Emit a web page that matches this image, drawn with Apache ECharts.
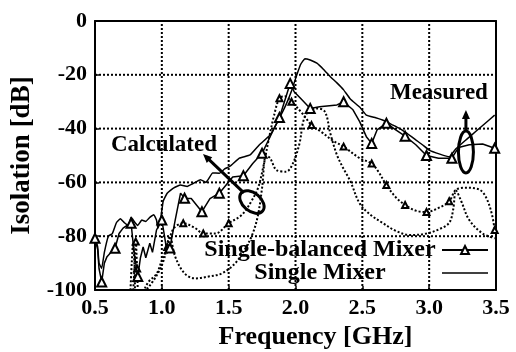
<!DOCTYPE html>
<html><head><meta charset="utf-8">
<script src="https://cdn.jsdelivr.net/npm/echarts@6.0.0/dist/echarts.min.js"></script>
<style>html,body{margin:0;padding:0;background:#fff}#c{width:516px;height:352px}</style>
</head><body><div id="c"></div>
<script>
// ---- axis ranges / ticks ----
const xRange = [0.5, 3.5], xStep = 0.5;
const yRange = [-100, 0], yStep = 20;
const xGridTicks = [1.0, 1.5, 2.0, 2.5, 3.0];
const yGridTicks = [-20, -40, -60, -80];

// ---- series names ----
const nameSB = 'Single-balanced Mixer';
const nameSM = 'Single Mixer';

// ---- measured single-balanced mixer (solid, triangles) [GHz, dB] ----
const sbMeasured = [[0.50,-80.8],[0.52,-85],[0.53,-92],[0.55,-97],[0.57,-90],[0.59,-87.6],[0.62,-86],[0.65,-84.5],[0.68,-79],[0.71,-77],
[0.74,-76],[0.77,-75.2],[0.79,-85],[0.82,-95],[0.84,-88],[0.86,-84],[0.88,-88],[0.91,-82.6],[0.93,-86],[0.96,-77.7],
[1.00,-74],[1.02,-80],[1.04,-86.4],[1.06,-84.4],[1.10,-74],[1.14,-64],[1.17,-65.9],[1.22,-66],[1.30,-70.9],[1.36,-66],
[1.43,-64],[1.53,-58],[1.61,-57.5],[1.68,-53],[1.75,-49.2],[1.82,-42],[1.88,-35.9],[1.93,-28],[1.96,-23.2],[1.99,-26.3],
[2.05,-29.4],[2.11,-32.5],[2.18,-31.9],[2.31,-31.2],[2.36,-30],[2.43,-33],[2.48,-37.4],[2.53,-43],[2.57,-45.5],[2.61,-40.5],
[2.68,-38],[2.75,-40.5],[2.82,-42.8],[2.90,-46],[2.98,-50],[3.07,-51],[3.17,-51],[3.22,-47],[3.30,-46],[3.40,-45.7],[3.49,-47.3]];
const sbMeasuredMarkers = [0.50,0.55,0.65,0.77,0.82,1.00,1.06,1.17,1.30,1.43,1.61,1.75,1.88,1.96,2.11,2.36,2.57,2.68,2.82,2.98,3.17,3.49];

// ---- measured single mixer (solid) ----
const smMeasured = [[0.50,-80],[0.52,-84],[0.53,-90],[0.55,-92],[0.57,-86],[0.60,-80],[0.63,-79],[0.66,-75],[0.69,-73.5],[0.72,-75],
[0.75,-76],[0.77,-73],[0.80,-75],[0.82,-76],[0.85,-74],[0.88,-74.5],[0.91,-73],[0.94,-72],[0.96,-74],[0.97,-77],
[0.99,-74],[1.01,-67],[1.04,-64],[1.09,-62],[1.14,-61],[1.19,-61.5],[1.23,-60.5],[1.29,-59],[1.33,-60],[1.38,-56.5],
[1.43,-56.6],[1.47,-55],[1.51,-54],[1.58,-51],[1.66,-49.8],[1.73,-46],[1.81,-42.4],[1.87,-37],[1.93,-31],[1.97,-26],
[2.01,-20],[2.04,-16],[2.07,-14],[2.11,-14.5],[2.16,-15.7],[2.21,-18],[2.26,-20.7],[2.31,-23],[2.36,-25.6],[2.41,-29],
[2.48,-32],[2.53,-35],[2.60,-36],[2.66,-37],[2.72,-38.5],[2.78,-40],[2.84,-42],[2.90,-44.2],[2.95,-46],[3.00,-48],
[3.08,-49.5],[3.15,-50.5],[3.20,-47.5],[3.28,-44],[3.35,-41],[3.42,-38],[3.49,-35]];

// ---- calculated single-balanced mixer (dotted, small markers) ----
const sbCalculated = [[0.78,-106],[0.795,-92],[0.805,-82],[0.815,-92],[0.83,-106],[0.86,-101],[0.90,-97],[0.96,-94],[1.00,-89],[1.04,-84],
[1.07,-79],[1.10,-76.5],[1.16,-75.2],[1.25,-77],[1.31,-79],[1.40,-79],[1.50,-75.2],[1.60,-72],[1.67,-67],[1.72,-62],
[1.76,-54],[1.80,-44],[1.84,-35],[1.88,-28.7],[1.92,-28],[1.97,-30],[2.05,-34.3],[2.12,-38.7],[2.20,-41.5],[2.28,-44.5],
[2.36,-46.7],[2.48,-51],[2.57,-53],[2.62,-56],[2.68,-61],[2.75,-65.5],[2.82,-68.4],[2.90,-70.5],[2.98,-71],[3.07,-69.5],
[3.15,-67],[3.20,-62.8],[3.28,-62],[3.38,-62.8],[3.43,-66],[3.47,-72],[3.49,-77.7]];
const sbCalculatedMarkers = [0.805,0.815,1.04,1.16,1.31,1.50,1.88,1.97,2.12,2.36,2.57,2.68,2.82,2.98,3.15,3.49];

// ---- calculated single mixer (dotted) ----
const smCalculated = [[0.76,-106],[0.775,-90],[0.785,-83],[0.795,-90],[0.81,-106],[0.87,-101],[0.93,-97],[0.98,-93],[1.02,-88],[1.06,-80],
[1.10,-87.6],[1.17,-93.8],[1.25,-95.7],[1.35,-95],[1.45,-93.8],[1.55,-90],[1.62,-85],[1.68,-79],[1.72,-72],[1.75,-62],
[1.78,-50],[1.81,-51],[1.86,-55.5],[1.93,-56],[1.98,-53],[2.03,-45.5],[2.06,-37],[2.10,-33.5],[2.16,-32.5],[2.22,-33.7],
[2.26,-41.7],[2.31,-49.8],[2.36,-55],[2.41,-59.5],[2.48,-67.8],[2.56,-72],[2.65,-75],[2.75,-78],[2.86,-79.6],[2.98,-79],
[3.07,-77.5],[3.15,-75],[3.18,-70],[3.20,-63],[3.24,-67],[3.30,-74],[3.40,-79],[3.49,-80.8]];

// ---- annotation labels ----
const annCalcText = 'Calculated';
const annMeasText = 'Measured';

const FONT = '"Liberation Serif","Times New Roman",serif';
const W = 516, H = 352;
const G = {left: 95, right: 20, top: 21, bottom: 62};
const chart = echarts.init(document.getElementById('c'), null, {renderer: 'canvas', width: W, height: H});

function withMarkers(points, marks, sym, size) {
  return points.map(p => {
    const m = marks.some(f => Math.abs(f - p[0]) < 1e-6);
    return {value: p, symbol: m ? sym : 'none', symbolSize: size};
  });
}
// linear mapping of the grid (same as the value axes) for annotation placement
function P(d) {
  const pw = W - G.left - G.right, ph = H - G.top - G.bottom;
  return [G.left + (d[0] - xRange[0]) / (xRange[1] - xRange[0]) * pw,
          G.top + (yRange[1] - d[1]) / (yRange[1] - yRange[0]) * ph];
}
function arrow(tailD, headD) {
  const t = P(tailD), h = P(headD);
  const dx = h[0] - t[0], dy = h[1] - t[1], L = Math.hypot(dx, dy);
  const ux = dx / L, uy = dy / L, nx = -uy, ny = ux, hl = 9, hw = 4;
  return [
    {type: 'line', shape: {x1: t[0], y1: t[1], x2: h[0] - ux * 4, y2: h[1] - uy * 4}, style: {stroke: '#000', lineWidth: 3}, z: 10},
    {type: 'polygon', shape: {points: [[h[0], h[1]], [h[0] - ux * hl + nx * hw, h[1] - uy * hl + ny * hw], [h[0] - ux * hl - nx * hw, h[1] - uy * hl - ny * hw]]},
     style: {fill: '#000'}, z: 10}
  ];
}
function ring(d, rx, ry, rot) {
  const c = P(d);
  return {type: 'ellipse', x: c[0], y: c[1], rotation: rot, shape: {cx: 0, cy: 0, rx: rx, ry: ry},
          style: {fill: 'none', stroke: '#000', lineWidth: 3}, z: 10};
}
function label(d, txt) {
  const c = P(d);
  return {type: 'text', x: c[0], y: c[1], z: 10,
          style: {text: txt, font: 'bold 23px ' + FONT, fill: '#000', align: 'center', verticalAlign: 'middle'}};
}
const annCalc = {text: [1.016, -46.1], head: [1.308, -49.4], tail: [1.614, -63.9], ring: [1.674, -67.3]};
const annMeas = {text: [3.073, -26.8], head: [3.275, -33.1], tail: [3.275, -40.9], ring: [3.275, -48.7]};

const axisText = {color: '#000', fontFamily: FONT, fontWeight: 'bold'};
const frameAxis = () => ({show: true, onZero: false, lineStyle: {color: '#000', width: 2}});
const gridStyle = {color: '#000', width: 2, type: 'dotted'};

// dotted grid lines drawn through the axes' own scales
const gridSeries = [
  ...xGridTicks.map(v => ({type: 'line', silent: true, symbol: 'none', z: 1, animation: false,
    data: [[v, yRange[0]], [v, yRange[1]]], lineStyle: gridStyle, tooltip: {show: false}})),
  ...yGridTicks.map(v => ({type: 'line', silent: true, symbol: 'none', z: 1, animation: false,
    data: [[xRange[0], v], [xRange[1], v]], lineStyle: gridStyle, tooltip: {show: false}}))
];

const option = {
  animation: false,
  grid: {left: G.left, right: G.right, top: G.top, bottom: G.bottom, show: false, outerBoundsMode: 'none'},
  xAxis: [{
    type: 'value', min: xRange[0], max: xRange[1], interval: xStep, position: 'bottom',
    axisLine: frameAxis(),
    axisTick: {show: true, inside: true, length: 4, lineStyle: {color: '#000', width: 1.5}},
    axisLabel: Object.assign({formatter: v => v.toFixed(1), fontSize: 22, margin: 7}, axisText),
    splitLine: {show: false},
    name: 'Frequency [GHz]', nameLocation: 'middle', nameGap: 27,
    nameTextStyle: Object.assign({fontSize: 26, padding: [0, 0, 0, 40]}, axisText)
  }, {
    type: 'value', min: xRange[0], max: xRange[1], interval: xStep, position: 'top',
    axisLine: frameAxis(), axisTick: {show: false}, axisLabel: {show: false}, splitLine: {show: false}
  }],
  yAxis: [{
    type: 'value', min: yRange[0], max: yRange[1], interval: yStep, position: 'left',
    axisLine: frameAxis(),
    axisTick: {show: true, inside: true, length: 4, lineStyle: {color: '#000', width: 1.5}},
    axisLabel: Object.assign({fontSize: 22, margin: 8}, axisText),
    splitLine: {show: false},
    name: 'Isolation [dB]', nameLocation: 'middle', nameGap: 54, nameRotate: 90,
    nameTextStyle: Object.assign({fontSize: 27}, axisText)
  }, {
    type: 'value', min: yRange[0], max: yRange[1], interval: yStep, position: 'right',
    axisLine: frameAxis(), axisTick: {show: false}, axisLabel: {show: false}, splitLine: {show: false}
  }],
  legend: [
    {data: [nameSB], left: 203, top: 238, align: 'right', itemWidth: 46, itemHeight: 10, padding: 0,
     selectedMode: false, formatter: n => '{t|' + n + '}',
     textStyle: {rich: {t: Object.assign({width: 234, align: 'center', fontSize: 24, lineHeight: 26}, axisText)}}},
    {data: [{name: nameSM, icon: 'rect'}], left: 203, top: 261, align: 'right', itemWidth: 46, itemHeight: 1.5, padding: 0,
     selectedMode: false, formatter: n => '{t|' + n + '}', itemStyle: {color: '#000', borderWidth: 0},
     textStyle: {rich: {t: Object.assign({width: 234, align: 'center', fontSize: 24, lineHeight: 26}, axisText)}}}
  ],
  graphic: [
    label(annCalc.text, annCalcText), ...arrow(annCalc.tail, annCalc.head), ring(annCalc.ring, 14, 9, -0.7),
    label(annMeas.text, annMeasText), ...arrow(annMeas.tail, annMeas.head), ring(annMeas.ring, 7.5, 21, 0)
  ],
  series: [
    {name: nameSB, type: 'line', data: withMarkers(sbMeasured, sbMeasuredMarkers, 'emptyTriangle', 9),
     symbol: 'emptyTriangle', symbolSize: 9, showSymbol: true, z: 4,
     lineStyle: {color: '#000', width: 1.5}, itemStyle: {color: '#000', borderColor: '#000', borderWidth: 1.2}},
    {name: nameSM, type: 'line', data: smMeasured, symbol: 'none', smooth: 0.1, z: 3,
     lineStyle: {color: '#000', width: 1.5}, itemStyle: {color: '#000'}},
    {name: 'sbCalc', type: 'line', data: withMarkers(sbCalculated, sbCalculatedMarkers, 'emptyTriangle', 6),
     symbol: 'emptyTriangle', symbolSize: 6, smooth: 0.35, z: 2,
     lineStyle: {color: '#000', width: 2, type: 'dotted'}, itemStyle: {color: '#000', borderColor: '#000', borderWidth: 1.2}},
    {name: 'smCalc', type: 'line', data: smCalculated, symbol: 'none', smooth: 0.35, z: 2,
     lineStyle: {color: '#000', width: 2, type: 'dotted'}, itemStyle: {color: '#000'}},
    ...gridSeries
  ]
};
chart.setOption(option);
</script></body></html>
